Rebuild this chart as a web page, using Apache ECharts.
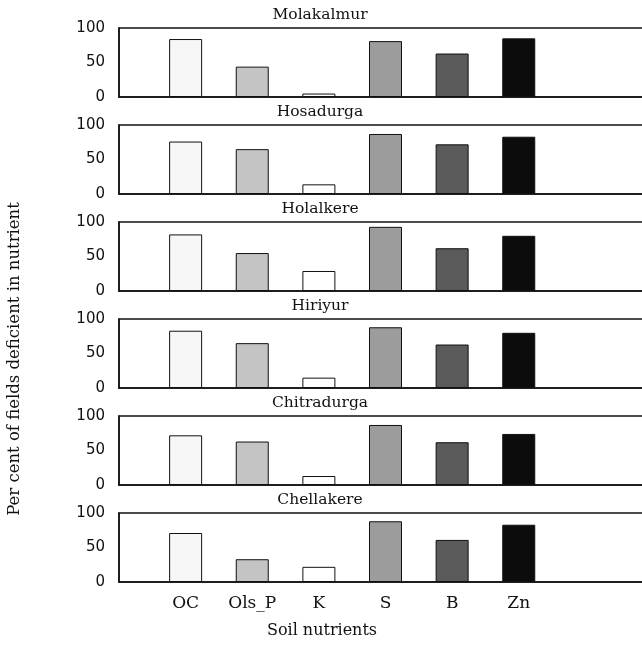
<!DOCTYPE html>
<html lang="en">
<head>
    <meta charset="UTF-8">
    <title>Soil nutrients</title>
    <script src="https://cdn.jsdelivr.net/npm/echarts@6/dist/echarts.min.js"></script>
    <style>
        *{
            margin: 0;
            padding: 0;
        }
        .container{
            width: 642px;
            height: 646px;
            background: #fff;
        }
    </style>
</head>
<body>
<div class="container"></div>
<script>
    // nutrients on the x axis, blanks pad the frame on both sides
    let nutrients = ['OC', 'Ols_P', 'K', 'S', 'B', 'Zn'];
    let axisCats = ['', 'OC', 'Ols_P', 'K', 'S', 'B', 'Zn', '', ''];
    let yTicks = [0, 50, 100];

    let places = ['Molakalmur', 'Hosadurga', 'Holalkere', 'Hiriyur', 'Chitradurga', 'Chellakere'];
    let molakalmur = [84, 44, 5, 81, 63, 85];
    let hosadurga = [76, 65, 14, 87, 72, 83];
    let holalkere = [82, 55, 29, 93, 62, 80];
    let hiriyur = [83, 65, 15, 88, 63, 80];
    let chitradurga = [72, 63, 13, 87, 62, 74];
    let chellakere = [71, 33, 22, 88, 61, 83];
    let values = [molakalmur, hosadurga, holalkere, hiriyur, chitradurga, chellakere];

    let fills = ['#f7f7f7', '#c4c4c4', '#ffffff', '#9c9c9c', '#5a5a5a', '#0c0c0c'];

    let main = document.querySelectorAll(".container");
    let mycharts = echarts.init(main[0]);

    let serif = 'DejaVu Serif';
    let grid = [], xAxis = [], yAxis = [], series = [], title = [];

    places.forEach((place, i) => {
        let top = 28 + i * 97;
        grid.push({
            left: 119,
            top: top,
            width: 533,
            height: 69,
            outerBoundsMode: 'none',
            containLabel: false,
            show: true,
            borderColor: '#111',
            borderWidth: 1.5
        });
        title.push({
            text: place,
            left: 320,
            textAlign: 'center',
            top: top - 21,
            padding: 0,
            textStyle: {fontFamily: serif, fontWeight: 'normal', fontSize: 15.5, color: '#111'}
        });
        xAxis.push({
            type: 'category',
            gridIndex: i,
            data: axisCats,
            boundaryGap: false,
            axisLine: {lineStyle: {color: '#111', width: 1.5}},
            axisTick: {show: false},
            axisLabel: {
                show: i == places.length - 1,
                fontFamily: serif,
                fontSize: 17,
                color: '#111',
                margin: 13
            }
        });
        yAxis.push({
            type: 'value',
            gridIndex: i,
            min: yTicks[0],
            max: yTicks[yTicks.length - 1],
            interval: 50,
            axisLine: {show: true, lineStyle: {color: '#111', width: 1.5}},
            axisTick: {show: false},
            splitLine: {show: false},
            axisLabel: {fontFamily: 'DejaVu Sans', fontSize: 15, color: '#111', margin: 14}
        });
        series.push({
            type: 'bar',
            xAxisIndex: i,
            yAxisIndex: i,
            barWidth: 33,
            data: ['-'].concat(values[i]).concat(['-', '-']),
            itemStyle: {
                borderColor: '#111',
                borderWidth: 1,
                color: p => fills[nutrients.indexOf(axisCats[p.dataIndex])] || '#fff'
            }
        });
    });

    title.push({
        text: 'Soil nutrients',
        left: 322,
        textAlign: 'center',
        top: 623,
        padding: 0,
        textStyle: {fontFamily: serif, fontWeight: 'normal', fontSize: 16, color: '#111'}
    });

    let Option = {
        backgroundColor: '#fff',
        animation: false,
        title,
        grid,
        xAxis,
        yAxis,
        series,
        graphic: [{
            type: 'text',
            x: 15,
            y: 359,
            rotation: Math.PI / 2,
            style: {
                text: 'Per cent of fields deficient in nutrient',
                font: '16.5px "DejaVu Serif"',
                fill: '#111',
                align: 'center',
                verticalAlign: 'middle'
            }
        }]
    };

    mycharts.setOption(Option);
</script>
</body>
</html>
